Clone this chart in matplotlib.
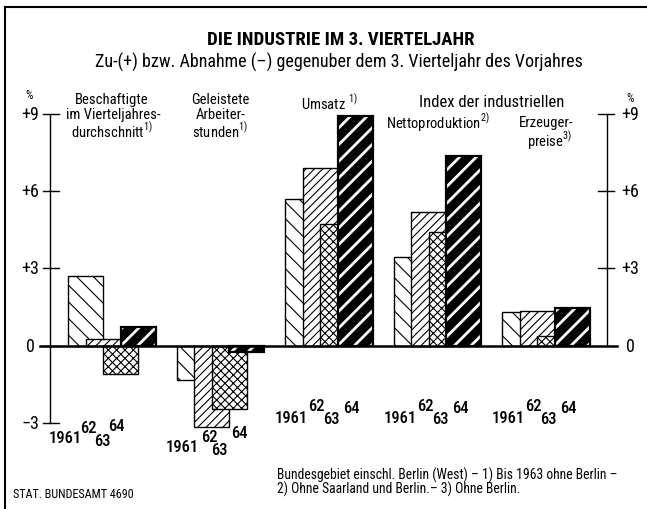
import matplotlib
matplotlib.use("Agg")
import matplotlib.pyplot as plt
from matplotlib.lines import Line2D

plt.rcParams['font.family'] = ['Roboto Condensed', 'Liberation Sans', 'DejaVu Sans']
plt.rcParams['mathtext.fontset'] = 'custom'
plt.rcParams['mathtext.rm'] = 'Roboto Condensed'
plt.rcParams['hatch.linewidth'] = 0.8

# Zu- bzw. Abnahme gegenueber dem 3. Vierteljahr des Vorjahres, in %
years = ['1961', '62', '63', '64']
beschaeftigte = [2.7, 0.25, -1.1, 0.7]
arbeiterstunden = [-1.35, -3.15, -2.45, -0.25]
umsatz = [5.7, 6.9, 4.7, 8.9]
nettoproduktion = [3.45, 5.2, 4.4, 7.35]
erzeugerpreise = [1.3, 1.35, 0.35, 1.45]
groups = [beschaeftigte, arbeiterstunden, umsatz, nettoproduktion, erzeugerpreise]
left_ticks = [9, 6, 3, 0, -3]
right_ticks = [9, 6, 3, 0]

hatches = ['\\\\', '////', 'xxxx', '//']

fig = plt.figure(figsize=(6.47, 5.10), dpi=100)
ax = fig.add_axes([0, 0, 1, 1])
ax.set_xlim(-50 / 35, 597 / 35)
ax.set_ylim((346.5 - 510) / 25.75, 346.5 / 25.75)
ax.axis('off')

step = 3.1
start = 0.52
for g, vals in enumerate(groups):
    for i, v in enumerate(vals):
        x0 = start + g * step + i * 0.5
        if i == 3:
            with plt.rc_context({'hatch.linewidth': 2.0}):
                ax.bar(x0, v, width=1.0, align='edge', color='black',
                       edgecolor='white', hatch=hatches[i], linewidth=0, zorder=2 + i)
            ax.bar(x0, v, width=1.0, align='edge', fill=False,
                   edgecolor='black', linewidth=1.6, zorder=2.5 + i)
        else:
            ax.bar(x0, v, width=1.0, align='edge', color='white',
                   edgecolor='black', hatch=hatches[i], linewidth=1.0, zorder=2 + i)

# zero line and axes
ax.plot([-0.3, 16.2], [0, 0], color='black', lw=1.8, zorder=10)
ax.plot([0, 0], [-3, 9], color='black', lw=1.0)
for t in left_ticks:
    ax.plot([-0.2, 0.25], [t, t], color='black', lw=1.0)
    lab = '0' if t == 0 else ('+%d' % t if t > 0 else '\u2212%d' % -t)
    ax.text(-0.57, t, lab, ha='center', va='center', fontsize=13)
xr = 557 / 35
ax.plot([xr, xr], [0, 9], color='black', lw=1.0)
for t in right_ticks:
    if t != 0:
        ax.plot([xr - 0.25, xr + 0.2], [t, t], color='black', lw=1.0)
    lab = '0' if t == 0 else '+%d' % t
    ax.text(16.57, t, lab, ha='center', va='center', fontsize=13)
ax.text(-0.6, 9.73, '%', ha='center', va='center', fontsize=8.5)
ax.text(16.57, 9.65, '%', ha='center', va='center', fontsize=8.5)

# category labels
def gc(g):
    return start + g * step + 1.25

fs = 10.5
ax.text(gc(0), 9.58, 'Beschaftigte', ha='center', va='center', fontsize=fs)
ax.text(gc(0) + 0.05, 8.98, 'im Vierteljahres-', ha='center', va='center', fontsize=fs)
ax.text(gc(0), 8.37, 'durchschnitt$^{1)}$', ha='center', va='center', fontsize=fs)
ax.text(gc(1), 9.58, 'Geleistete', ha='center', va='center', fontsize=fs)
ax.text(gc(1), 8.98, 'Arbeiter-', ha='center', va='center', fontsize=fs)
ax.text(gc(1), 8.37, 'stunden$^{1)}$', ha='center', va='center', fontsize=fs)
ax.text(gc(2), 9.48, 'Umsatz $^{1)}$', ha='center', va='center', fontsize=fs)
ax.text((gc(3) + gc(4)) / 2, 9.48, 'Index der industriellen', ha='center', va='center', fontsize=12)
ax.text(gc(3), 8.68, 'Nettoproduktion$^{2)}$', ha='center', va='center', fontsize=fs)
ax.text(gc(4), 8.68, 'Erzeuger-', ha='center', va='center', fontsize=fs)
ax.text(gc(4) + 0.1, 7.98, 'preise$^{3)}$', ha='center', va='center', fontsize=fs)

# year labels under each group: (x offset from group start, y)
lay_a = [(-19, -3.59), (12, -3.2), (26, -3.67), (40, -3.09)]
lay_b = [(-11, -3.94), (24, -3.55), (34, -4.02), (54, -3.36)]
lay_c = [(-10, -2.78), (23, -2.34), (38, -2.85), (58, -2.4)]
for g in range(len(groups)):
    lay = lay_a if g == 0 else (lay_b if g == 1 else lay_c)
    for (dx, y), yr in zip(lay, years):
        ax.text(start + g * step + dx / 35, y, yr, ha='left', va='center',
                fontsize=12, fontweight='medium')

# titles and notes
fig.text(341 / 647, 1 - 40 / 510, 'DIE INDUSTRIE IM 3. VIERTELJAHR',
         ha='center', va='center', fontsize=13.5, fontweight='bold')
fig.text(339 / 647, 1 - 62 / 510,
         'Zu-(+) bzw. Abnahme (\u2013) gegenuber dem 3. Vierteljahr des Vorjahres',
         ha='center', va='center', fontsize=13)
fig.text(277 / 647, 1 - 475 / 510,
         'Bundesgebiet einschl. Berlin (West) \u2013 1) Bis 1963 ohne Berlin \u2013',
         ha='left', va='center', fontsize=9.8)
fig.text(277 / 647, 1 - 489 / 510,
         '2) Ohne Saarland und Berlin.\u2013 3) Ohne Berlin.',
         ha='left', va='center', fontsize=9.8)
fig.text(13 / 647, 1 - 495 / 510, 'STAT. BUNDESAMT 4690',
         ha='left', va='center', fontsize=8.7)

# frame
fig.add_artist(Line2D([5 / 647, 5 / 647], [0, 1 - 8 / 510], color='black', lw=1.5))
fig.add_artist(Line2D([5 / 647, 1], [1 - 8 / 510, 1 - 8 / 510], color='black', lw=1.5))

fig.savefig('out.png', dpi=100)
